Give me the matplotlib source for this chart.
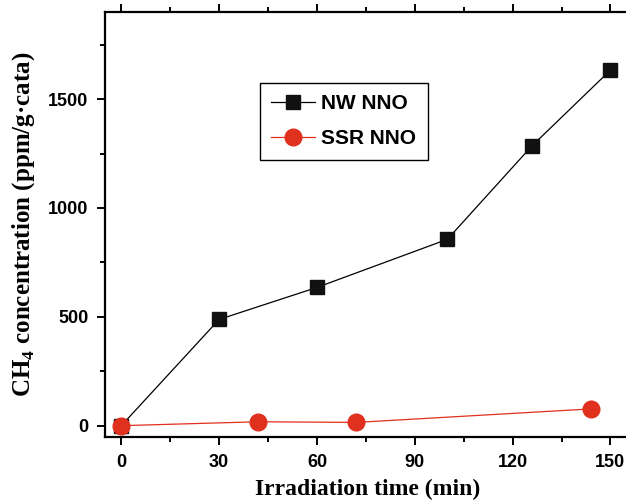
import matplotlib
matplotlib.use("Agg")
import matplotlib.pyplot as plt
from matplotlib.ticker import MultipleLocator

# datos
t_nw = [0, 30, 60, 100, 126, 150]
ch4_nw = [0, 488, 635, 856, 1286, 1633]
t_ssr = [0, 42, 72, 144]
ch4_ssr = [0, 18, 15, 77]
etiquetas = ["NW NNO", "SSR NNO"]

plt.rcParams['mathtext.fontset'] = 'custom'
plt.rcParams['mathtext.rm'] = 'Liberation Serif:bold'
plt.rcParams['mathtext.bf'] = 'Liberation Serif:bold'

fig = plt.figure(figsize=(6.26, 5.01), dpi=100)
# el borde derecho queda justo fuera de la imagen, como en el original
ax = fig.add_axes([105/626, 64/501, 525/626, 425/501])

ax.plot(t_nw, ch4_nw, color='black', lw=0.9, marker='s', ms=10.5,
        mfc='#111111', mec='#111111', label=etiquetas[0])
ax.plot(t_ssr, ch4_ssr, color='#e0301e', lw=0.9, marker='o', ms=12,
        mfc='#e0301e', mec='#e0301e', label=etiquetas[1])

ax.set_xlim(-5, 156)
ax.set_ylim(-52, 1900)
ax.xaxis.set_major_locator(MultipleLocator(30))
ax.xaxis.set_minor_locator(MultipleLocator(15))
ax.yaxis.set_major_locator(MultipleLocator(500))
ax.yaxis.set_minor_locator(MultipleLocator(250))

for s in ax.spines.values():
    s.set_linewidth(1.6)

ax.tick_params(axis='both', which='major', direction='out', length=6, width=1.4,
               labelsize=13, pad=6)
ax.tick_params(axis='both', which='minor', direction='out', length=3.5, width=1.4)
ax.tick_params(axis='x', which='both', top=True, labeltop=False)
for lab in ax.get_xticklabels() + ax.get_yticklabels():
    lab.set_fontfamily('Liberation Sans')
    lab.set_fontweight('bold')

ax.set_xlabel('Irradiation time (min)', fontfamily='Liberation Serif',
              fontweight='bold', fontsize=17, labelpad=6)
ax.set_ylabel('CH$_{4}$ concentration (ppm/g\u00b7cata)', fontfamily='Liberation Serif',
              fontweight='bold', fontsize=18, labelpad=8)

leg = ax.legend(loc='upper left', bbox_to_anchor=(260/626, 1 - 83/501),
                bbox_transform=fig.transFigure, fancybox=False, framealpha=1,
                edgecolor='black', borderaxespad=0,
                prop={'family': 'Liberation Sans', 'weight': 'bold', 'size': 15},
                handlelength=2.1, borderpad=0.55, labelspacing=0.75, handletextpad=0.3)
leg.get_frame().set_linewidth(1.0)

fig.savefig('out.png', dpi=100)
